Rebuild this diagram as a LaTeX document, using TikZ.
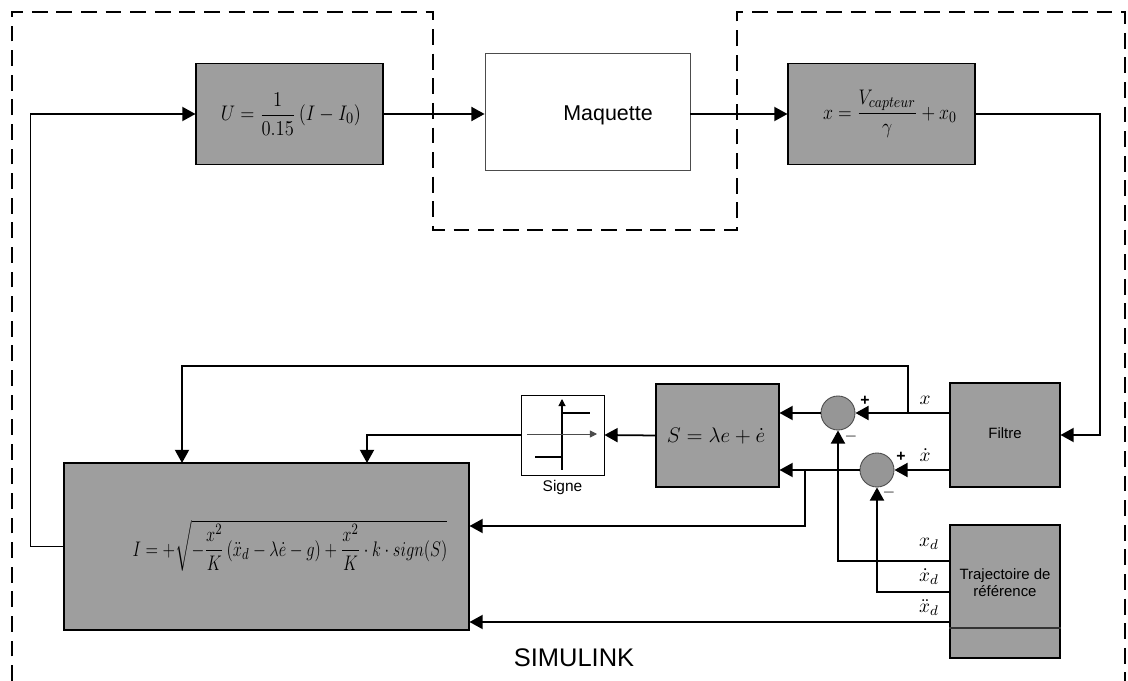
\documentclass[tikz,border=0pt]{standalone}
\usepackage{amsmath}
\usepackage{fontspec}
\setmainfont{Liberation Sans}
\usetikzlibrary{arrows.meta}
\definecolor{boxgray}{RGB}{158,158,158}
\definecolor{sumgray}{RGB}{150,150,150}
\begin{document}
\begin{tikzpicture}[x=0.2mm,y=-0.2mm,
  graybox/.style={draw=black, line width=0.6pt, fill=boxgray, inner sep=0pt, align=center},
  whitebox/.style={draw=black!70, line width=0.5pt, fill=white, inner sep=0pt},
  sumnode/.style={circle, draw=black!70, line width=0.5pt, fill=sumgray, minimum size=6.8mm, inner sep=0pt},
  conn/.style={line width=1pt, -{Triangle[length=7.5pt,width=8pt]}},
  frame/.style={line width=1.3pt, dash pattern=on 9pt off 5pt},
  sig/.style={font=\fontsize{11}{13}\selectfont, inner sep=0pt},
  small/.style={font=\fontsize{8.5}{9.5}\selectfont, align=center, inner sep=0pt},
  eq/.style={font=\fontsize{12.5}{14}\selectfont, inner sep=0pt},
  pm/.style={font=\fontsize{9}{10}\selectfont\bfseries, inner sep=0pt}
]
\useasboundingbox (0,0) rectangle (1128,681);

% dashed frame
\draw[frame] (12,681) -- (12,12) -- (433,12) -- (433,230) -- (737,230) -- (737,12) -- (1125,12) -- (1125,681);

% blocks
\node[graybox, minimum width=37.4mm, minimum height=20.2mm] (U) at (289.5,114) {};
\node[eq] (Ut) at (291,114) {\scalebox{0.88}[1]{$U=\dfrac{1}{0.15}\left(I-I_0\right)$}};
\node[whitebox, minimum width=41mm, minimum height=23.4mm] (M) at (587.5,111.5) {};
\node[font=\fontsize{12.2}{14}\selectfont, inner sep=0pt] (Mt) at (608,115) {Maquette};
\node[graybox, minimum width=37.4mm, minimum height=20.2mm] (X) at (881.5,114) {};
\node[eq] (Xt) at (890,114) {\scalebox{0.85}[1]{$x=\dfrac{V_{capteur}}{\gamma}+x_0$}};
\node[graybox, minimum width=22mm, minimum height=20.8mm] (F) at (1005,435) {};
\node[small] (Ft) at (1005,433) {Filtre};
\node[graybox, minimum width=22mm, minimum height=26.6mm] (T) at (1005,591.5) {};
\node[small] (Tt) at (1005,583) {Trajectoire de\\référence};
\node[graybox, minimum width=24.6mm, minimum height=20.6mm] (S) at (717.5,435.5) {};
\node[eq] (St) at (716,436) {$S=\lambda e+\dot e$};
\node[whitebox, draw=black, minimum width=16.6mm, minimum height=16mm] (Sg) at (562.5,435) {};
\node[font=\fontsize{8.8}{10}\selectfont, inner sep=0pt] (SgL) at (562.5,488) {Signe};
\node[graybox, minimum width=81mm, minimum height=33.4mm] (I) at (266.5,546.5) {};
\node[font=\fontsize{12.5}{14}\selectfont, inner sep=0pt] (It) at (290,546)
  {\scalebox{0.78}[1]{$I=+\sqrt{-\dfrac{x^2}{K}\left(\ddot x_d-\lambda\dot e-g\right)+\dfrac{x^2}{K}\cdot k\cdot sign(S)}$}};
\node[sumnode] (s1) at (838,413) {};
\node[sumnode] (s2) at (877,470) {};

% line inside Trajectoire block
\draw[line width=0.6pt, black!80] (T.west |- 0,628) -- (T.east |- 0,628);

% Signe symbol
\draw[line width=0.6pt, -{Triangle[length=4pt,width=4pt]}] (562,470) -- (562,399);
\draw[line width=0.5pt, black!70, -{Triangle[length=4pt,width=4pt]}] (527,434) -- (597,434);
\draw[line width=0.6pt] (562,413) -- (590,413);
\draw[line width=0.6pt] (535,457) -- (562,457);

% waypoints
\coordinate (c1) at (1100,114);
\coordinate (fx) at (950,413);
\coordinate (fxd) at (950,470);
\coordinate (bx) at (908,413);
\coordinate (bxd) at (805,470);
\coordinate (txd) at (950,561);
\coordinate (txdd) at (950,592);
\coordinate (txddd) at (950,622);

% connectors
\draw[conn] (U.east) -- (U.east -| M.west);
\draw[conn] (M.east |- X.west) -- (X.west);
\draw[conn] (I.west) -- ++(-33,0) |- (U.west);
\draw[conn] (X.east) -- (c1) |- (F.east);
\draw[conn] (fx) -- (s1.east);
\draw[conn] (fxd) -- (s2.east);
\draw[conn] (s1.west) -- (S.east |- s1);
\draw[conn] (s2.west) -- (S.east |- s2);
\draw[conn] (bx) -- (908,366) -- (182,366) -- (182,463);
\draw[conn] (bxd) -- (805,526) -- (I.east |- 0,526);
\draw[conn] (S.west) -- (Sg.east);
\draw[conn] (Sg.west) -- (367,435) -- (367,463);
\draw[conn] (txd) -- (838,561) -- (s1.south);
\draw[conn] (txdd) -- (877,592) -- (s2.south);
\draw[conn] (txddd) -- (I.east |- 0,622);

% signal labels
\node[sig] (lx) at (925,400) {$x$};
\node[sig] (lxd) at (925,455) {$\dot x$};
\node[sig] (lxr) at (929,544) {$x_d$};
\node[sig] (lxrd) at (929,577) {$\dot x_d$};
\node[sig] (lxrdd) at (929,608) {$\ddot x_d$};
\node[pm] (p1) at (865,401) {+};
\node[pm] (m1) at (851,437) {$-$};
\node[pm] (p2) at (901,457) {+};
\node[pm] (m2) at (889,493) {$-$};

\node[font=\fontsize{14.5}{16}\selectfont, inner sep=0pt] (sim) at (574,658) {SIMULINK};
\end{tikzpicture}
\end{document}
